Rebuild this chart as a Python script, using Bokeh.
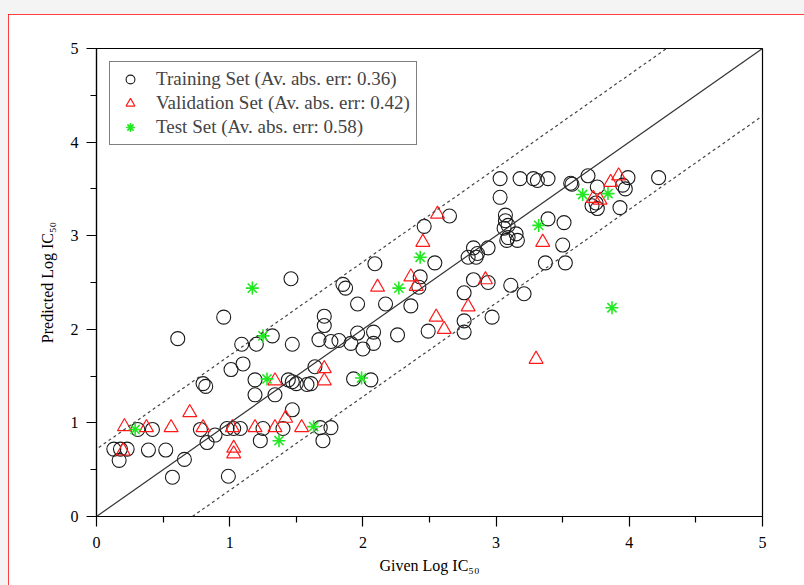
from bokeh.plotting import figure
from bokeh.models import Range1d, Slope, Legend, LegendItem, FixedTicker, Spacer
from bokeh.layouts import column, row
from bokeh.embed import file_html
from bokeh.resources import INLINE

# ---------------- data ----------------
train_x = [0.13, 0.18, 0.23, 0.17, 0.39, 0.52, 0.66, 0.57, 0.99,
           0.31, 0.42, 0.78, 0.98, 1.03, 1.08, 1.25, 1.40, 1.68, 1.76,
           1.23, 1.70, 0.83, 0.89, 1.47, 0.80, 0.82, 1.19, 1.19, 1.34,
           1.44, 1.47, 1.50, 1.58, 1.61, 1.01, 1.10, 1.64, 1.93, 2.06,
           0.61, 0.955, 1.46, 1.09, 1.20, 1.32, 1.47,
           1.71, 1.71, 1.67, 1.76, 1.82, 1.91, 1.96, 2.00, 2.08, 2.08, 2.26,
           1.85, 1.87, 1.96, 2.09, 2.17, 2.36, 2.42, 2.43,
           2.46, 2.65, 2.54, 2.49, 2.76, 2.76, 2.97,
           2.76, 2.83, 2.94, 3.11, 3.21,
           2.79, 2.85, 2.83, 2.86, 2.94, 3.08, 3.16,
           3.03, 3.18, 3.28, 3.31, 3.39, 3.03,
           3.07, 3.07, 3.09, 3.06, 3.15, 3.09,
           3.39, 3.51, 3.50, 3.37, 3.52,
           3.56, 3.57, 3.69, 3.76, 3.99, 3.95, 3.97, 4.22,
           3.72, 3.76, 3.75, 3.93]
train_y = [0.72, 0.72, 0.72, 0.60, 0.71, 0.71, 0.61, 0.42, 0.43,
           0.93, 0.93, 0.93, 0.94, 0.94, 0.94, 0.94, 0.94, 0.95, 0.95,
           0.81, 0.81, 0.79, 0.87, 1.14, 1.42, 1.39, 1.46, 1.30, 1.30,
           1.46, 1.44, 1.42, 1.41, 1.42, 1.57, 1.63, 1.60, 1.47, 1.46,
           1.90, 2.13, 2.54, 1.84, 1.84, 1.93, 1.84,
           2.14, 2.04, 1.89, 1.87, 1.88, 1.85, 1.96, 1.79, 1.85, 1.97, 1.94,
           2.48, 2.44, 2.27, 2.70, 2.27, 2.25, 2.45, 2.56,
           3.10, 3.21, 2.71, 1.98, 2.09, 1.97, 2.13,
           2.39, 2.53, 2.50, 2.47, 2.38,
           2.77, 2.77, 2.87, 2.81, 2.87, 2.95, 2.95,
           3.61, 3.61, 3.61, 3.59, 3.61, 3.41,
           3.22, 3.16, 3.11, 3.08, 3.02, 2.98,
           3.18, 3.14, 2.90, 2.71, 2.71,
           3.56, 3.55, 3.64, 3.52, 3.62, 3.54, 3.50, 3.62,
           3.32, 3.29, 3.35, 3.30]

valid_x = [0.21, 0.375, 0.56, 0.80, 1.02, 1.19, 1.34, 1.42, 1.54,
           0.20, 1.03, 1.03, 0.70, 1.34, 1.71, 1.71,
           2.11, 2.36, 2.40, 2.45, 2.56, 2.92, 2.79, 2.55, 2.61,
           3.30, 3.35, 3.73, 3.78, 3.86, 3.92]
valid_y = [0.96, 0.95, 0.95, 0.95, 0.95, 0.95, 0.95, 1.05, 0.95,
           0.70, 0.73, 0.67, 1.11, 1.45, 1.58, 1.45,
           2.45, 2.56, 2.46, 2.93, 3.23, 2.53, 2.24, 2.13, 2.00,
           1.68, 2.93, 3.40, 3.38, 3.57, 3.64]

test_x = [1.17, 1.25, 1.28, 0.29, 1.63, 1.37, 1.99, 2.27, 2.43, 3.32, 3.65, 3.84, 3.87]
test_y = [2.44, 1.93, 1.47, 0.93, 0.96, 0.81, 1.48, 2.44, 2.77, 3.11, 3.44, 3.45, 2.23]

labels = ["Training Set (Av. abs. err: 0.36)",
          "Validation Set (Av. abs. err: 0.42)",
          "Test Set (Av. abs. err: 0.58)"]
x_title = "Given Log IC\u2085\u2080"
y_title = "Predicted Log IC\u2085\u2080"
band = 0.72
ticks = [0, 1, 2, 3, 4, 5]

SERIF = "Liberation Serif"

# figure sits 8px from the left and 14px from the top of the page, inside a red frame
p = figure(width=796, height=571, output_backend="svg", toolbar_location=None,
           x_range=Range1d(0, 5), y_range=Range1d(0, 5),
           frame_width=666, frame_height=468,
           min_border_left=88, min_border_right=42, min_border_top=34, min_border_bottom=69)
p.styles = {"outline": "1.5px solid red", "outline-offset": "-1px"}
p.border_fill_color = "white"
p.background_fill_color = "white"
p.outline_line_color = "black"
p.outline_line_width = 1.2
p.grid.visible = False

for ax in (p.xaxis[0], p.yaxis[0]):
    ax.ticker = FixedTicker(ticks=ticks, minor_ticks=[0.5, 1.5, 2.5, 3.5, 4.5])
    ax.major_tick_in = 0
    ax.major_tick_out = 10
    ax.minor_tick_in = 0
    ax.minor_tick_out = 6
    ax.major_tick_line_color = "black"
    ax.minor_tick_line_color = "black"
    ax.major_tick_line_width = 1.2
    ax.minor_tick_line_width = 1.2
    ax.axis_line_width = 1.2
    ax.major_label_text_font = SERIF
    ax.major_label_text_font_size = "16px"
    ax.major_label_text_color = "black"
    ax.axis_label_text_font = SERIF
    ax.axis_label_text_font_size = "16px"
    ax.axis_label_text_font_style = "normal"
    ax.axis_label_text_color = "black"
p.xaxis[0].axis_label = x_title
p.yaxis[0].axis_label = y_title
p.yaxis[0].major_label_orientation = 0
p.yaxis[0].major_label_standoff = 8
p.xaxis[0].major_label_standoff = 10
p.xaxis[0].axis_label_standoff = 6
p.yaxis[0].axis_label_standoff = 12

# reference lines
p.add_layout(Slope(gradient=1, y_intercept=0, line_color="#333333", line_width=1.2))
p.add_layout(Slope(gradient=1, y_intercept=band, line_color="#444444", line_width=1.2, line_dash="3 3"))
p.add_layout(Slope(gradient=1, y_intercept=-band, line_color="#444444", line_width=1.2, line_dash="3 3"))

r_train = p.scatter(train_x, train_y, marker="circle", size=14, fill_color=None,
                    line_color="#1a1a1a", line_width=1.1)
r_valid = p.scatter(valid_x, valid_y, marker="triangle", size=14, fill_color=None,
                    line_color="#ff1a1a", line_width=1.2)
r_test = p.scatter(test_x, test_y, marker="asterisk", size=13,
                   line_color="#22e822", line_width=1.6)

legend = Legend(items=[LegendItem(label=labels[0], renderers=[r_train]),
                       LegendItem(label=labels[1], renderers=[r_valid]),
                       LegendItem(label=labels[2], renderers=[r_test])],
                location="top_left", margin=13, padding=6, spacing=2,
                label_text_font=SERIF, label_text_font_size="19px",
                label_standoff=12, glyph_width=28, glyph_height=22,
                border_line_color="black", border_line_width=1.2,
                background_fill_alpha=1.0)
p.add_layout(legend)

layout = column(Spacer(height=14, width=804),
                row(Spacer(width=8, height=571), p),
                styles={"background-color": "#f4f4f4"})

open("out.html", "w").write(file_html(layout, INLINE))
